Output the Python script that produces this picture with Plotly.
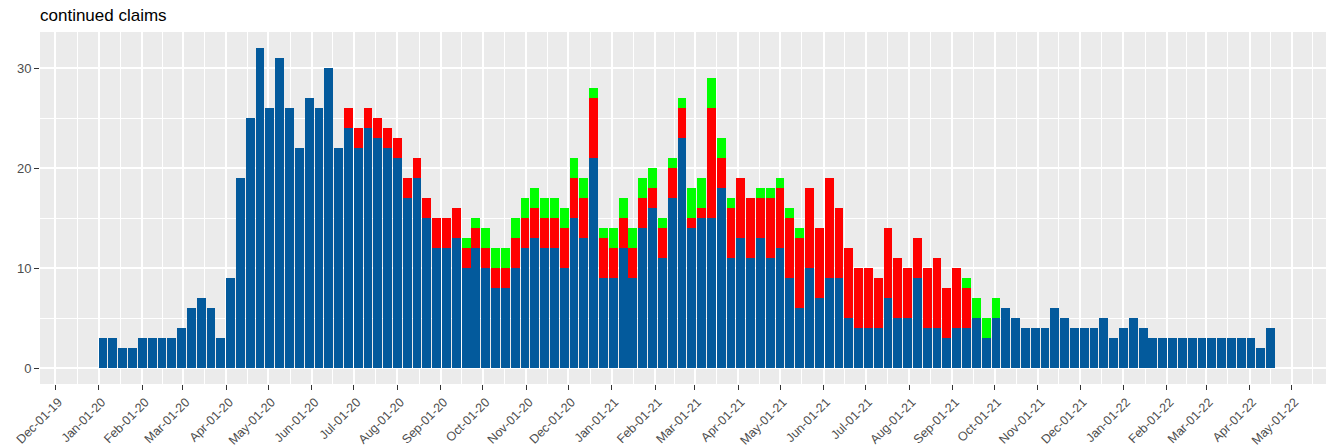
import pandas as pd
import plotly.graph_objects as go

# Week-ending dates (weekly, Saturdays) – categories on the x axis
first_week = "2020-01-04"
n_weeks = 120
weeks = pd.date_range(first_week, periods=n_weeks, freq="7D")

# Series values (stacked: blue bottom, red middle, green top)
blue_vals = [3, 3, 2, 2, 3, 3, 3, 3, 4, 6, 7, 6, 3, 9, 19, 25, 32, 26, 31, 26,
             22, 27, 26, 30, 22, 24, 22, 24, 23, 22, 21, 17, 19, 15, 12, 12, 13, 10, 12, 10,
             8, 8, 10, 12, 13, 12, 12, 10, 15, 13, 21, 9, 9, 12, 9, 14, 16, 11, 17, 23,
             14, 15, 15, 18, 11, 13, 11, 13, 11, 12, 9, 6, 10, 7, 9, 9, 5, 4, 4, 4,
             7, 5, 5, 9, 4, 4, 3, 4, 4, 5, 3, 5, 6, 5, 4, 4, 4, 6, 5, 4,
             4, 4, 5, 3, 4, 5, 4, 3, 3, 3, 3, 3, 3, 3, 3, 3, 3, 3, 2, 4]
red_vals = [0, 0, 0, 0, 0, 0, 0, 0, 0, 0, 0, 0, 0, 0, 0, 0, 0, 0, 0, 0,
            0, 0, 0, 0, 0, 2, 2, 2, 2, 2, 2, 2, 2, 2, 3, 3, 3, 2, 2, 2,
            2, 2, 3, 3, 3, 3, 3, 4, 4, 4, 6, 4, 3, 3, 3, 3, 2, 3, 3, 3,
            1, 1, 11, 3, 5, 6, 6, 4, 6, 6, 6, 7, 8, 7, 10, 7, 7, 6, 6, 5,
            7, 6, 5, 4, 6, 7, 5, 6, 4, 0, 0, 0, 0, 0, 0, 0, 0, 0, 0, 0,
            0, 0, 0, 0, 0, 0, 0, 0, 0, 0, 0, 0, 0, 0, 0, 0, 0, 0, 0, 0]
green_vals = [0, 0, 0, 0, 0, 0, 0, 0, 0, 0, 0, 0, 0, 0, 0, 0, 0, 0, 0, 0,
              0, 0, 0, 0, 0, 0, 0, 0, 0, 0, 0, 0, 0, 0, 0, 0, 0, 1, 1, 2,
              2, 2, 2, 2, 2, 2, 2, 2, 2, 2, 1, 1, 2, 2, 2, 2, 2, 1, 1, 1,
              3, 3, 3, 2, 1, 0, 0, 1, 1, 1, 1, 1, 0, 0, 0, 0, 0, 0, 0, 0,
              0, 0, 0, 0, 0, 0, 0, 0, 1, 2, 2, 2, 0, 0, 0, 0, 0, 0, 0, 0,
              0, 0, 0, 0, 0, 0, 0, 0, 0, 0, 0, 0, 0, 0, 0, 0, 0, 0, 0, 0]

title_text = "continued claims"
y_ticks = [0, 10, 20, 30]
month_ticks = pd.date_range("2019-12-01", "2022-05-01", freq="MS")
month_labels = [d.strftime("%b-%d-%y") for d in month_ticks]

# minor gridlines: midpoints between the monthly breaks (plus one on each side)
ext = [month_ticks[0] - (month_ticks[1] - month_ticks[0])] + list(month_ticks) + \
      [month_ticks[-1] + (month_ticks[-1] - month_ticks[-2])]
minor_x = [ext[i] + (ext[i + 1] - ext[i]) / 2 for i in range(len(ext) - 1)]

bar_width_ms = 0.9 * 7 * 24 * 3600 * 1000

fig = go.Figure()
for vals, col in [(blue_vals, "#035A9C"), (red_vals, "#FF0000"), (green_vals, "#00FF00")]:
    fig.add_trace(go.Bar(x=weeks, y=vals, width=bar_width_ms,
                         marker=dict(color=col, line=dict(width=0)),
                         showlegend=False))

fig.update_layout(
    barmode="stack",
    width=1326, height=448,
    margin=dict(l=40, r=0, t=32, b=64, autoexpand=False),
    paper_bgcolor="white",
    plot_bgcolor="#EBEBEB",
    font=dict(family="Liberation Sans, Arial, sans-serif", color="#4D4D4D", size=13),
    title=dict(text=title_text, x=40 / 1326, xref="container", xanchor="left",
               y=1 - 15 / 448, yref="container", yanchor="middle",
               font=dict(color="black", size=17)),
    bargap=0,
)

fig.update_xaxes(
    type="date", automargin=False,
    range=["2019-11-20", "2022-05-25 12:00"],
    tickmode="array", tickvals=month_ticks, ticktext=month_labels,
    tickangle=-45,
    ticks="outside", ticklen=5, tickwidth=1, tickcolor="#333333",
    ticklabelshift=3,
    showgrid=True, gridcolor="white", gridwidth=1.6,
    minor=dict(tickmode="array", tickvals=minor_x, showgrid=True,
               gridcolor="white", gridwidth=0.8, ticks=""),
    zeroline=False, showline=False,
    tickfont=dict(color="#4D4D4D", size=12.5),
)
fig.update_yaxes(
    automargin=False,
    range=[-1.6, 33.6],
    tickmode="array", tickvals=y_ticks,
    ticks="outside", ticklen=5, tickwidth=1, tickcolor="#333333",
    showgrid=True, gridcolor="white", gridwidth=1.6,
    minor=dict(tickmode="array", tickvals=[5, 15, 25], showgrid=True,
               gridcolor="white", gridwidth=0.8, ticks=""),
    zeroline=False, showline=False,
    tickfont=dict(color="#4D4D4D", size=13),
)

fig.write_html(
    "out.html",
    config={"displayModeBar": False},
    post_script="document.body.style.margin='0';document.body.style.padding='0';",
)
